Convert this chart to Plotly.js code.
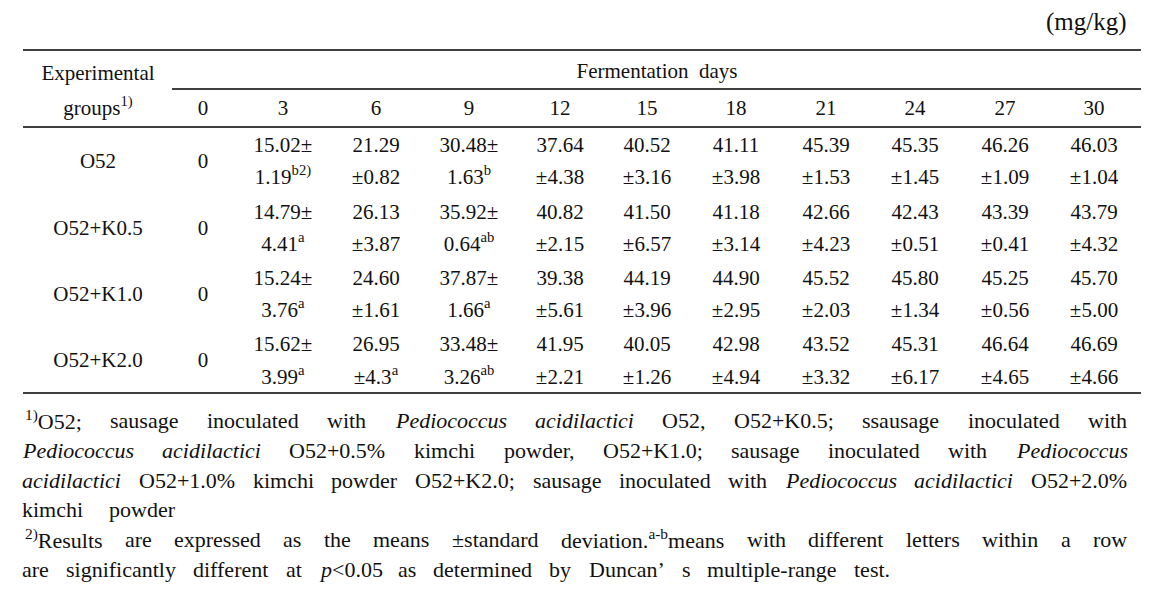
<!DOCTYPE html>
<html><head><meta charset="utf-8">
<script src="https://cdn.plot.ly/plotly-3.0.1.min.js"></script>
<style>html,body{margin:0;padding:0;background:#fff}#chart{width:1157px;height:603px}</style>
</head><body><div id="chart"></div>
<script>
// ---------------- data ----------------
const days = ['0','3','6','9','12','15','18','21','24','27','30'];
const groups = ['O52','O52+K0.5','O52+K1.0','O52+K2.0'];
const meanO52 = ['0','15.02','21.29','30.48','37.64','40.52','41.11','45.39','45.35','46.26','46.03'];
const sdO52   = [null,'1.19','0.82','1.63','4.38','3.16','3.98','1.53','1.45','1.09','1.04'];
const sigO52  = ['','b2)','','b','','','','','','',''];
const meanK05 = ['0','14.79','26.13','35.92','40.82','41.50','41.18','42.66','42.43','43.39','43.79'];
const sdK05   = [null,'4.41','3.87','0.64','2.15','6.57','3.14','4.23','0.51','0.41','4.32'];
const sigK05  = ['','a','','ab','','','','','','',''];
const meanK10 = ['0','15.24','24.60','37.87','39.38','44.19','44.90','45.52','45.80','45.25','45.70'];
const sdK10   = [null,'3.76','1.61','1.66','5.61','3.96','2.95','2.03','1.34','0.56','5.00'];
const sigK10  = ['','a','','a','','','','','','',''];
const meanK20 = ['0','15.62','26.95','33.48','41.95','40.05','42.98','43.52','45.31','46.64','46.69'];
const sdK20   = [null,'3.99','4.3','3.26','2.21','1.26','4.94','3.32','6.17','4.65','4.66'];
const sigK20  = ['','a','a','ab','','','','','','',''];
const unitLabel = '(mg/kg)';
const groupHeader = ['Experimental','groups<sup>1)</sup>'];
const spanHeader = 'Fermentation\u00A0\u00A0days';

// ---------------- layout constants ----------------
const W = 1157, H = 603;
const FONT = '"Liberation Serif", "DejaVu Serif", Times, serif';
const FS = 21;      // table text
const FSN = 22;     // footnote text
const DY = 2.5;     // vertical nudge for centred table text
const colX = [203,283,376,469,560,647,736,826,915,1005,1094];
const groupX = 98;
const rowY = [[144,176],[211,243],[277,309],[343,376]];
const splitCols = ['3','9'];  // columns where "±" ends the first line

const means = [meanO52, meanK05, meanK10, meanK20];
const sds = [sdO52, sdK05, sdK10, sdK20];
const sigs = [sigO52, sigK05, sigK10, sigK20];

const xs = [], ys = [], ts = [];
function put(x, y, t){ xs.push(x); ys.push(y + DY); ts.push(t); }
put(groupX, 72, groupHeader[0]);
put(groupX, 107, groupHeader[1]);
put(657, 70, spanHeader);
days.forEach((d,i)=>put(colX[i], 107, d));
groups.forEach((g,gi)=>{
  const yc = (rowY[gi][0]+rowY[gi][1])/2;
  put(groupX, yc, g);
  days.forEach((d,di)=>{
    const m = means[gi][di], s = sds[gi][di], l = sigs[gi][di];
    const sup = l ? '<sup>'+l+'</sup>' : '';
    if (s === null) { put(colX[di], yc, m); return; }
    if (splitCols.includes(d)) {
      put(colX[di], rowY[gi][0], m+'±');
      put(colX[di], rowY[gi][1], s+sup);
    } else {
      put(colX[di], rowY[gi][0], m);
      put(colX[di], rowY[gi][1], '±'+s+sup);
    }
  });
});

const traces = [{
  type:'scatter', mode:'text', x:xs, y:ys, text:ts,
  textposition:'middle center', hoverinfo:'skip',
  textfont:{family:FONT, size:FS, color:'#111'}, showlegend:false, cliponaxis:false
}];

const lineStyle = {color:'#000', width:1.5};
const shapes = [
  {type:'line', xref:'x', yref:'y', x0:23, x1:1141, y0:50, y1:50, line:lineStyle},
  {type:'line', xref:'x', yref:'y', x0:172, x1:1141, y0:89, y1:89, line:lineStyle},
  {type:'line', xref:'x', yref:'y', x0:23, x1:1141, y0:127, y1:127, line:lineStyle},
  {type:'line', xref:'x', yref:'y', x0:23, x1:1141, y0:393, y1:393, line:lineStyle}
];

// ---------------- footnotes (justified) ----------------
const fnLines = [
  {x0:25, x1:1127, y:420, words:[[['1)','s'],['O52;','n']],'sausage','inoculated','with',[['Pediococcus','i']],[['acidilactici','i']],'O52,','O52+K0.5;','ssausage','inoculated','with']},
  {x0:22, x1:1127, y:450, words:[[['Pediococcus','i']],[['acidilactici','i']],'O52+0.5%','kimchi','powder,','O52+K1.0;','sausage','inoculated','with',[['Pediococcus','i']]]},
  {x0:22, x1:1127, y:480, words:[[['acidilactici','i']],'O52+1.0%','kimchi','powder','O52+K2.0;','sausage','inoculated','with',[['Pediococcus','i']],[['acidilactici','i']],'O52+2.0%']},
  {x0:22, x1:175, y:509, words:['kimchi','powder']},
  {x0:25, x1:1127, y:539, words:[[['2)','s'],['Results','n']],'are','expressed','as','the','means','±standard',[['deviation.','n'],['a-b','s'],['means','n']],'with','different','letters','within','a','row']},
  {x0:22, x1:890, y:569, words:['are','significantly','different','at',[['p','i'],['<0.05','n']],'as','determined','by','Duncan’','s','multiple-range','test.']}
];
const cv = document.createElement('canvas').getContext('2d');
function segW(t, st){
  const size = st==='s' ? FSN*0.7 : FSN;
  cv.font = (st==='i' ? 'italic ' : '') + size + 'px ' + FONT;
  return cv.measureText(t).width;
}
function esc(t){ return t.replace(/&/g,'&amp;').replace(/</g,'&lt;').replace(/>/g,'&gt;'); }
const annotations = [];
fnLines.forEach(L=>{
  const ws = L.words.map(w => typeof w === 'string' ? [[w,'n']] : w);
  const widths = ws.map(w => w.reduce((a,[t,st])=>a+segW(t,st),0));
  const total = widths.reduce((a,b)=>a+b,0);
  const gap = ws.length>1 ? (L.x1-L.x0-total)/(ws.length-1) : 0;
  let x = L.x0;
  ws.forEach((w,i)=>{
    const html = w.map(([t,st])=> st==='i' ? '<i>'+esc(t)+'</i>' : st==='s' ? '<sup>'+esc(t)+'</sup>' : esc(t)).join('');
    annotations.push({xref:'x', yref:'y', x:x, y:L.y, text:html, showarrow:false,
      xanchor:'left', yanchor:'middle', borderpad:0, borderwidth:0,
      font:{family:FONT, size:FSN, color:'#111'}});
    x += widths[i] + gap;
  });
});
annotations.push({xref:'x', yref:'y', x:1127, y:22, text:unitLabel, showarrow:false,
  xanchor:'right', yanchor:'middle', borderpad:0, borderwidth:0,
  font:{family:FONT, size:25, color:'#111'}});

const layout = {
  width:W, height:H, margin:{l:0,r:0,t:0,b:0},
  paper_bgcolor:'#fff', plot_bgcolor:'#fff',
  font:{family:FONT},
  xaxis:{range:[0,W], visible:false, fixedrange:true},
  yaxis:{range:[H,0], visible:false, fixedrange:true},
  shapes:shapes, annotations:annotations, hovermode:false, showlegend:false
};
Plotly.newPlot('chart', traces, layout, {displayModeBar:false, staticPlot:true});
</script></body></html>
